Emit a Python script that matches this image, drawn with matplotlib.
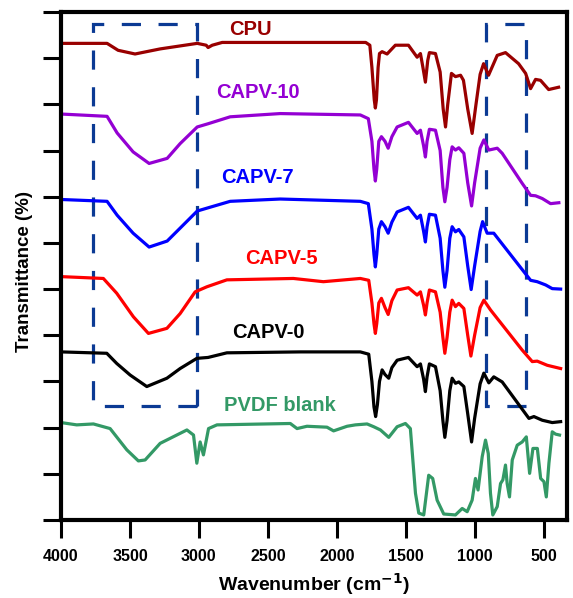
import matplotlib
matplotlib.use("Agg")
import matplotlib.pyplot as plt
from matplotlib.patches import Rectangle

plt.rcParams['font.family'] = ['Liberation Sans', 'DejaVu Sans']
plt.rcParams['font.weight'] = 'bold'
plt.rcParams['mathtext.default'] = 'bf'

# spektra (vlnocet, posunuta transmitance)
cpu_wn = [4000, 3666, 3586, 3463, 3281, 3012, 2947, 2933, 2903, 2831, 2400, 1829, 1790, 1760, 1745, 1728,
          1720, 1712, 1700, 1690, 1671, 1635, 1575, 1480, 1417, 1393, 1375, 1357, 1340, 1328, 1284, 1250,
          1228, 1211, 1195, 1168, 1139, 1102, 1081, 1050, 1018, 990, 960, 935, 899, 836, 776, 681, 630,
          594, 558, 522, 463, 391]
cpu_t = [103.2, 103.2, 101.7, 100.9, 102.0, 103.2, 102.8, 102.3, 102.8, 103.4, 103.4, 103.4, 103.4, 102.8, 98.0, 91.0,
         89.2, 91.0, 98.0, 101.0, 101.4, 100.9, 102.8, 102.8, 100.2, 101.0, 98.0, 94.8, 99.5, 101.2, 101.0, 97.0,
         89.0, 85.1, 90.0, 96.7, 96.0, 96.3, 95.2, 89.0, 83.7, 90.0, 96.5, 98.8, 96.3, 100.6, 101.2, 98.8, 96.7,
         93.4, 95.4, 95.2, 93.2, 93.7]

capv10_wn = [4000, 3666, 3593, 3477, 3361, 3230, 3136, 3012, 2933, 2773, 2410, 1829, 1771, 1745, 1730, 1720,
             1710, 1695, 1676, 1650, 1627, 1600, 1562, 1480, 1417, 1393, 1370, 1357, 1345, 1328, 1284, 1250,
             1230, 1216, 1200, 1180, 1163, 1139, 1115, 1078, 1050, 1022, 1000, 960, 933, 897, 836, 800, 655,
             594, 558, 509, 449, 389]
capv10_t = [87.9, 87.4, 83.8, 79.7, 77.2, 78.3, 81.5, 85.1, 85.8, 87.3, 88.0, 87.7, 86.9, 82.0, 76.0, 73.4,
            76.0, 82.0, 83.0, 82.0, 80.5, 83.0, 85.1, 86.1, 83.7, 84.4, 81.0, 78.6, 82.0, 84.6, 84.4, 80.0,
            72.0, 68.9, 72.0, 78.0, 80.8, 80.1, 80.6, 79.4, 73.0, 68.0, 73.0, 80.5, 82.3, 80.1, 80.5, 79.4, 72.9,
            70.3, 70.2, 69.6, 68.5, 68.7]

capv7_wn = [4000, 3666, 3593, 3477, 3361, 3230, 3136, 3012, 2933, 2773, 2410, 1829, 1771, 1745, 1730, 1720,
            1710, 1695, 1676, 1650, 1627, 1600, 1562, 1480, 1417, 1393, 1370, 1357, 1345, 1328, 1284, 1250,
            1230, 1216, 1200, 1180, 1163, 1139, 1115, 1078, 1050, 1025, 1000, 960, 942, 909, 861, 594, 546,
            485, 437, 376]
capv7_t = [69.4, 69.0, 66.0, 62.1, 59.1, 60.4, 63.2, 66.9, 67.6, 69.0, 69.5, 69.0, 68.5, 63.0, 57.5, 54.8,
           57.5, 63.0, 64.6, 63.5, 62.1, 64.5, 66.7, 67.7, 65.3, 66.0, 62.5, 60.2, 63.5, 66.2, 66.0, 61.0,
           54.0, 50.4, 54.0, 61.0, 63.5, 62.4, 62.9, 61.3, 55.0, 49.9, 55.0, 62.5, 64.6, 62.1, 62.1, 51.9, 51.6,
           50.9, 50.1, 50.0]

capv5_wn = [4000, 3693, 3596, 3475, 3366, 3232, 3136, 3027, 2942, 2797, 2315, 2097, 1829, 1768, 1745, 1730,
            1720, 1710, 1695, 1676, 1650, 1627, 1600, 1562, 1480, 1417, 1393, 1370, 1357, 1345, 1328, 1284,
            1250, 1230, 1216, 1200, 1180, 1163, 1139, 1115, 1078, 1050, 1027, 1000, 960, 933, 885, 655, 582,
            546, 473, 376]
capv5_t = [52.7, 52.3, 49.1, 44.0, 40.4, 41.5, 44.7, 49.4, 50.5, 52.0, 52.3, 51.6, 52.3, 51.9, 47.0, 42.5,
           40.4, 42.5, 47.0, 48.0, 46.0, 44.5, 47.5, 49.8, 50.3, 48.7, 49.4, 46.5, 44.4, 47.0, 49.8, 49.4,
           45.0, 39.5, 36.1, 39.5, 45.0, 47.6, 46.2, 46.9, 45.8, 40.0, 35.5, 40.0, 46.0, 47.6, 45.5, 36.8, 34.3,
           34.4, 33.5, 32.8]

capv0_wn = [4000, 3668, 3596, 3499, 3378, 3232, 3136, 3015, 2933, 2797, 2264, 1829, 1768, 1745, 1730, 1718,
            1705, 1690, 1671, 1650, 1623, 1600, 1562, 1480, 1417, 1393, 1370, 1357, 1345, 1328, 1284, 1250,
            1230, 1216, 1200, 1180, 1163, 1139, 1115, 1078, 1050, 1022, 1000, 960, 933, 897, 861, 800, 606,
            570, 509, 437, 376]
capv0_t = [36.4, 36.1, 33.9, 31.4, 28.9, 30.7, 32.8, 35.0, 35.2, 36.2, 36.4, 36.4, 35.9, 30.0, 24.5, 22.4,
           25.0, 30.0, 32.5, 31.5, 30.7, 33.0, 34.6, 35.2, 33.2, 33.8, 30.5, 27.8, 31.0, 33.8, 33.2, 28.0,
           21.5, 17.9, 21.5, 28.0, 30.7, 29.6, 29.9, 28.9, 23.0, 16.9, 22.0, 29.5, 31.8, 29.7, 31.0, 29.9, 22.0,
           22.4, 21.6, 21.1, 21.3]

pvdf_wn = [4000, 3886, 3765, 3644, 3523, 3439, 3390, 3281, 3087, 3039, 3015, 2991, 2967, 2930, 2869, 2337,
           2288, 2216, 2071, 2023, 1925, 1865, 1780, 1732, 1683, 1623, 1562, 1502, 1466, 1429, 1405, 1369,
           1333, 1304, 1272, 1224, 1139, 1090, 1054, 1018, 994, 975, 945, 921, 901, 885, 868, 836, 812, 795,
           776, 764, 747, 727, 691, 655, 625, 601, 577, 545, 521, 497, 480, 461, 437, 413, 384]
pvdf_t = [21.1, 20.6, 20.8, 19.8, 15.2, 12.8, 13.0, 16.6, 19.5, 18.4, 12.3, 16.9, 14.1, 19.8, 20.6, 20.9,
          19.8, 20.3, 20.1, 19.3, 20.3, 20.6, 20.8, 20.2, 19.5, 17.9, 20.2, 20.9, 19.8, 5.8, 1.5, 1.1,
          9.7, 9.0, 4.3, 1.3, 1.1, 2.5, 1.8, 4.3, 9.0, 6.5, 13.7, 17.3, 14.4, 5.8, 1.1, 2.9, 7.9, 8.7,
          11.9, 7.9, 5.0, 13.0, 16.2, 16.9, 18.0, 10.1, 15.5, 15.5, 9.0, 8.3, 5.0, 12.3, 19.1, 18.6, 18.4]

nazvy = ['CPU', 'CAPV-10', 'CAPV-7', 'CAPV-5', 'CAPV-0', 'PVDF blank']
barvy = ['#990000', '#9400D3', '#0000FF', '#FF0000', '#000000', '#339966']
popisky_wn = [2627, 2569, 2577, 2402, 2497, 2410]
popisky_t = [106.3, 92.5, 74.2, 56.7, 40.5, 24.7]

# oblasti vyznacene carkovanymi obdelniky (wn_od, wn_do, t_od, t_do)
oblasti = [(3770, 3015, 24.7, 107.4), (916, 630, 24.7, 107.5)]

spektra = [(cpu_wn, cpu_t), (capv10_wn, capv10_t), (capv7_wn, capv7_t),
           (capv5_wn, capv5_t), (capv0_wn, capv0_t), (pvdf_wn, pvdf_t)]

fig = plt.figure(figsize=(5.73, 5.98), dpi=100)
ax = fig.add_axes([0.1065, 0.1304, 0.883, 0.8496])

for (wn, t), barva in zip(spektra, barvy):
    ax.plot(wn, t, color=barva, linewidth=2.3, solid_joinstyle='round')

for nazev, barva, x, y in zip(nazvy, barvy, popisky_wn, popisky_t):
    ax.text(x, y, nazev, color=barva, fontsize=14.5, fontweight='bold', ha='center', va='center')

for w1, w2, t1, t2 in oblasti:
    ax.add_patch(Rectangle((w2, t1), w1 - w2, t2 - t1, fill=False, edgecolor='#0B3A94',
                           linewidth=2.3, linestyle=(0, (6, 5.5))))

ax.set_xlim(4000, 330)
ax.set_ylim(0, 110)
ax.set_xticks([4000, 3500, 3000, 2500, 2000, 1500, 1000, 500])
ax.set_yticks(range(0, 111, 10))
ax.set_yticklabels([])
ax.tick_params(axis='both', direction='out', length=13, width=2.2, labelsize=11.5)
ax.tick_params(axis='x', pad=8)
for s in ax.spines.values():
    s.set_linewidth(3)
for lab in ax.get_xticklabels():
    lab.set_fontweight('bold')

ax.set_xlabel('Wavenumber (cm$^{-1}$)', fontsize=14, fontweight='bold', labelpad=5)
ax.set_ylabel('Transmittance (%)', fontsize=13.5, fontweight='bold')
ax.yaxis.set_label_coords(-0.055, 0.49)

fig.savefig('out.png', dpi=100)
